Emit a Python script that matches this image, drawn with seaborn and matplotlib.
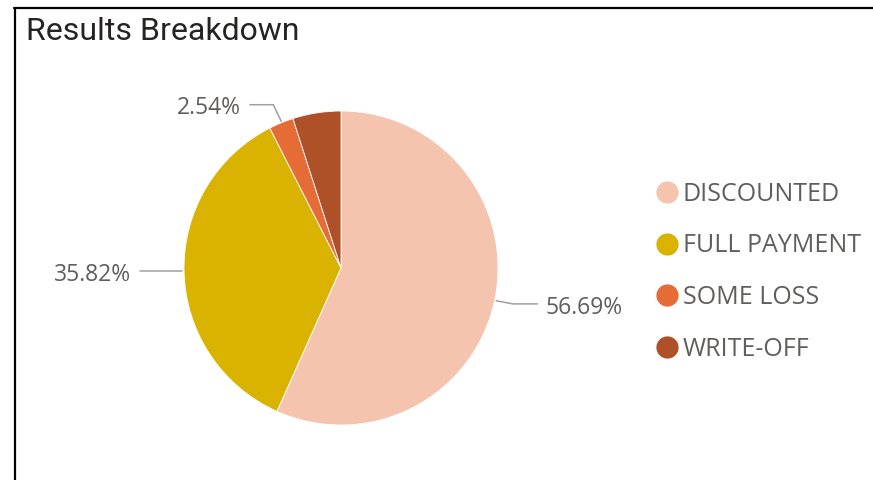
import numpy as np
import matplotlib
matplotlib.use("Agg")
import matplotlib.pyplot as plt
from matplotlib.lines import Line2D
import seaborn as sns

categories = ["DISCOUNTED", "FULL PAYMENT", "SOME LOSS", "WRITE-OFF"]
values = [56.69, 35.82, 2.54, 4.95]
shown_labels = ["56.69%", "35.82%", "2.54%", None]
colors = ["#F4C4AE", "#D9B300", "#E66C37", "#AE5128"]

sns.set_theme(style="white")
plt.rcParams["font.family"] = ["Open Sans", "DejaVu Sans"]

W, H = 873, 480
fig = plt.figure(figsize=(W / 100, H / 100), dpi=100)
fig.patch.set_facecolor("white")

# frame lines (left and top)
fig.add_artist(Line2D([15 / W, 15 / W], [0, 1 - 7.5 / H], color="black", lw=1.6, transform=fig.transFigure))
fig.add_artist(Line2D([14 / W, 1], [1 - 7.5 / H, 1 - 7.5 / H], color="black", lw=1.6, transform=fig.transFigure))

fig.text(26 / W, 1 - 31 / H, "Results Breakdown", fontsize=23, color="#252423",
         va="center", ha="left", family=["Roboto", "DejaVu Sans"])

cx, cy, r = 341, 268, 157
pad = 3
ax = fig.add_axes([(cx - r - pad) / W, (H - cy - r - pad) / H, (2 * r + 2 * pad) / W, (2 * r + 2 * pad) / H])

wedges, _ = ax.pie(values, colors=colors, startangle=90, counterclock=False,
                   radius=1, wedgeprops=dict(edgecolor="white", linewidth=0.6))
ax.set_xlim(-1 - pad / r, 1 + pad / r)
ax.set_ylim(-1 - pad / r, 1 + pad / r)
ax.set_aspect("equal")
ax.axis("off")

lab_color = "#605E5C"
line_color = "#A19F9D"
fs = 16.5
for w, lab in zip(wedges, shown_labels):
    if lab is None:
        continue
    ang = np.deg2rad((w.theta1 + w.theta2) / 2)
    x0, y0 = np.cos(ang), np.sin(ang)
    if abs(y0) < 0.5:
        side = 1 if x0 > 0 else -1
        if side > 0:
            yl = y0 - 0.02
            xs = [x0 + 0.01, 1.095, 1.25]
            ys = [y0, yl, yl]
            tx = 1.30
        else:
            yl = y0 + 0.005
            xs = [x0 - 0.01, -1.28]
            ys = [yl, yl]
            tx = -1.34
        ax.plot(xs, ys, color=line_color, lw=1.1, clip_on=False)
        ax.text(tx, yl - 0.025, lab, ha="left" if side > 0 else "right",
                va="center", fontsize=fs, color=lab_color, clip_on=False)
    else:
        ye = 1.04
        xe = x0 - 0.05
        ax.plot([x0, xe, -0.58], [y0 + 0.01, ye, ye], color=line_color, lw=1.1, clip_on=False)
        ax.text(-0.637, ye - 0.02, lab, ha="right", va="center", fontsize=fs,
                color=lab_color, clip_on=False)

handles = [Line2D([0], [0], marker="o", linestyle="", markersize=15, markerfacecolor=c,
                  markeredgecolor=c) for c in colors]
leg = fig.legend(handles, categories, loc="upper left", bbox_to_anchor=(659 / W, 1 - 182 / H),
                 frameon=False, fontsize=18, handlelength=0.6, handletextpad=0.35,
                 labelspacing=1.06, borderaxespad=0, borderpad=0)
for t in leg.get_texts():
    t.set_color(lab_color)

fig.savefig("out.png", dpi=100, facecolor="white")
